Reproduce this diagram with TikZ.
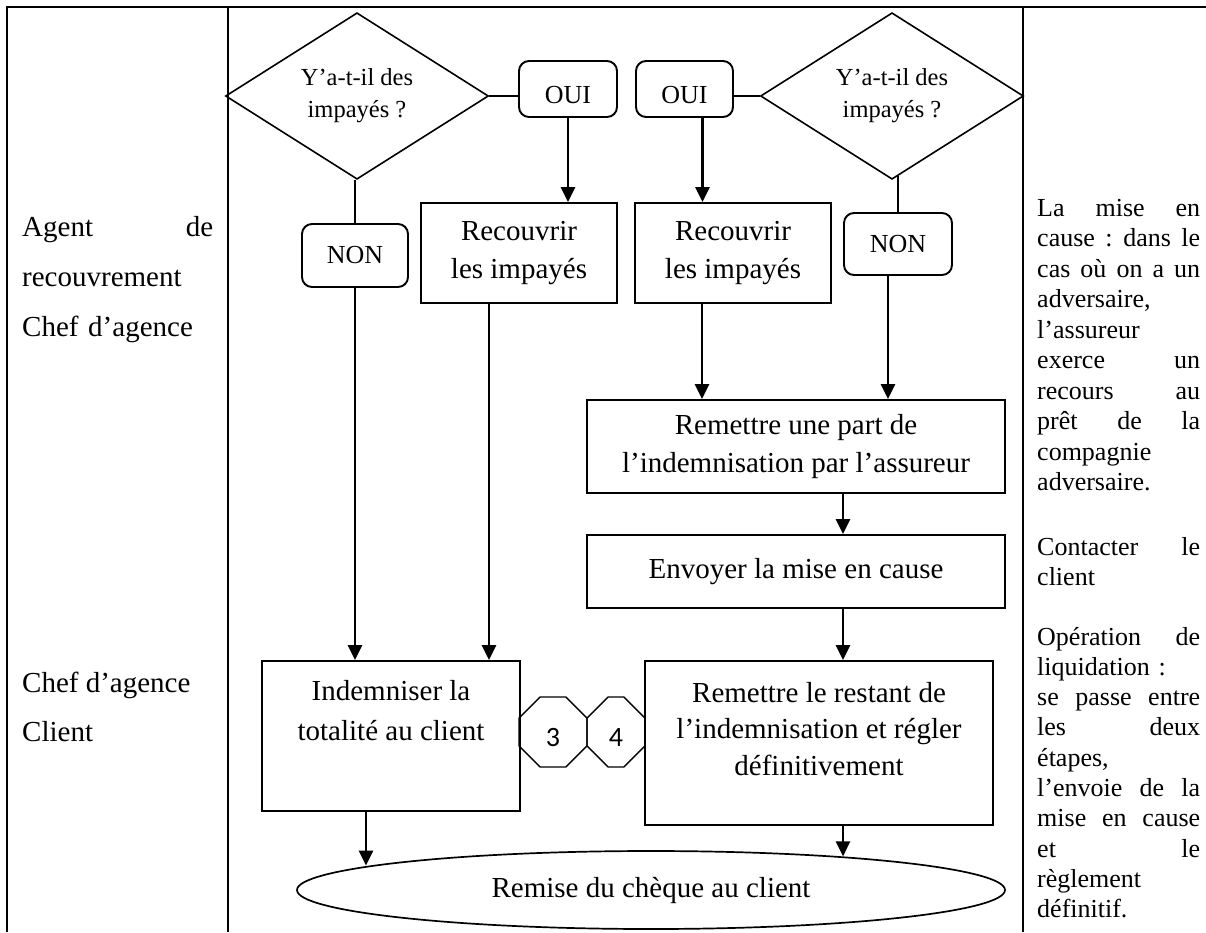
\documentclass[tikz,border=0pt]{standalone}
\usepackage{fontspec}
\setmainfont{Liberation Serif}
\newfontfamily\chiffres{Carlito}
\usetikzlibrary{shapes.geometric,shapes.misc,arrows.meta,calc}
\newcommand{\ligne}[1]{\makebox[163pt][s]{\frenchspacing\spaceskip=0.25em plus 1fil\relax #1}}

\begin{document}
\begin{tikzpicture}[x=1pt,y=-1pt,
	boite/.style={draw, rectangle, line width=1.9pt, inner sep=0pt, align=center, font=\fontsize{29}{38}\selectfont},
	losange/.style={draw, diamond, line width=1.6pt, inner sep=0pt, minimum width=263pt, minimum height=162pt, align=center, font=\fontsize{24.5}{32}\selectfont},
	choix/.style={draw, rectangle, rounded corners=10pt, line width=1.9pt, inner sep=0pt, font=\fontsize{26}{30}\selectfont},
	octo/.style={draw, chamfered rectangle, line width=1.4pt, inner sep=0pt, minimum height=70pt, text height=28pt, text depth=0pt, font=\chiffres\fontsize{28}{30}\selectfont},
	ovale/.style={draw, ellipse, line width=1.7pt, inner sep=0pt, minimum width=708pt, minimum height=78pt, font=\fontsize{29}{38}\selectfont},
	fleche/.style={-{Triangle[length=15pt,width=14pt]}, line width=2.6pt},
	trait/.style={line width=1.6pt},
	cadre/.style={line width=2.8pt},
	colonne/.style={align=left, inner sep=0pt}]
	\useasboundingbox (0,0) rectangle (1206,932);
	
	\draw[cadre] (7,932) -- (7,7) -- (1206,7);
	\draw[cadre] (228,7) -- (228,932);
	\draw[cadre] (1023,7) -- (1023,932);
	
	\node[colonne, text width=191pt, anchor=base west, font=\fontsize{29}{50}\selectfont] (agent) at (22,236) {Agent\hfill de\\recouvrement\\Chef d’agence};
	\node[colonne, anchor=base west, font=\fontsize{29}{49}\selectfont] (client) at (22,741) {Chef d’agence\\Client};
	
	\node[colonne, text width=163pt, anchor=base west, font=\fontsize{26}{30.55}\selectfont] (cause) at (1037,216) {\ligne{La mise en}\\\ligne{cause : dans le}\\\ligne{cas où on a un}\\adversaire,\\l’assureur\\\ligne{exerce un}\\\ligne{recours au}\\\ligne{prêt de la}\\compagnie\\adversaire.};
	\node[colonne, text width=163pt, anchor=base west, font=\fontsize{26}{30.55}\selectfont] (contact) at (1037,555) {\ligne{Contacter le}\\client};
	\node[colonne, text width=163pt, anchor=base west, font=\fontsize{26}{30.3}\selectfont] (liquid) at (1037,645) {\ligne{Opération de}\\liquidation :\\\ligne{se passe entre}\\\ligne{les deux}\\étapes,\\\ligne{l’envoie de la}\\\ligne{mise en cause}\\\ligne{et le}\\règlement\\définitif.};
	
	\node[losange] (d1) at (357,96) {Y’a-t-il des\\impayés ?};
	\node[losange] (d2) at (892,96) {Y’a-t-il des\\impayés ?};
	\node[choix, minimum width=98pt, minimum height=56pt, text height=29pt, text depth=0pt] (oui1) at (568,89) {OUI};
	\node[choix, minimum width=97pt, minimum height=56pt, text height=29pt, text depth=0pt] (oui2) at (684.5,89) {OUI};
	\node[choix, minimum width=106pt, minimum height=63pt] (non1) at (355,255.5) {NON};
	\node[choix, minimum width=108pt, minimum height=62pt] (non2) at (898,244) {NON};
	
	\node[boite, minimum width=196pt, minimum height=100pt] (rec1) at (519,253) {Recouvrir\\les impayés};
	\node[boite, minimum width=196pt, minimum height=100pt] (rec2) at (733,253) {Recouvrir\\les impayés};
	\node[boite, minimum width=418pt, minimum height=93pt] (part) at (796,446.5) {Remettre une part de\\l’indemnisation par l’assureur};
	\node[boite, minimum width=418pt, minimum height=73pt] (envoi) at (796,571.5) {Envoyer la mise en cause};
	\node[boite, minimum width=258pt, text height=79pt, text depth=71pt, font=\fontsize{29}{40}\selectfont] (ind) at (391,736) {Indemniser la\\totalité au client};
	\node[boite, minimum width=348pt, text height=114pt, text depth=50pt, font=\fontsize{29}{36.5}\selectfont] (reste) at (819,743) {Remettre le restant de\\l’indemnisation et régler\\définitivement};
	
	\node[octo, minimum width=68pt, chamfered rectangle xsep=19pt, chamfered rectangle ysep=20pt] (c3) at (553,732) {3};
	\node[octo, minimum width=58pt, chamfered rectangle xsep=17pt, chamfered rectangle ysep=18pt] (c4) at (616,732) {4};
	
	\node[ovale] (fin) at (651,890) {Remise du chèque au client};
	
	\draw[trait] (d1.east) -- (d1.east -| oui1.west);
	\draw[trait] (oui2.east |- d2.west) -- (d2.west);
	\draw[fleche] (oui1.south) -- (oui1.south |- rec1.north);
	\coordinate (o2) at ([xshift=18pt]oui2.south);
	\draw[fleche] (o2) -- (o2 |- rec2.north);
	\draw[trait] (non1.north) -- (non1.north |- d1.south);
	\draw[fleche] (non1.south) -- (non1.south |- ind.north);
	\coordinate (r1) at ([xshift=-30pt]rec1.south);
	\draw[fleche] (r1) -- (r1 |- ind.north);
	\coordinate (r2) at ([xshift=-31pt]rec2.south);
	\draw[fleche] (r2) -- (r2 |- part.north);
	\draw[trait] (non2.north) -- (non2.north |- d2.-85);
	\coordinate (n2) at ([xshift=-10pt]non2.south);
	\draw[fleche] (n2) -- (n2 |- part.north);
	\coordinate (p) at ([xshift=47pt]part.south);
	\draw[fleche] (p) -- (p |- envoi.north);
	\draw[fleche] (envoi.south -| p) -- (p |- reste.north);
	\draw[fleche] (reste.south -| p) -- (p |- fin.10);
	\coordinate (i) at ([xshift=-25pt]ind.south);
	\draw[fleche] (i) -- (i |- fin.175);
\end{tikzpicture}
\end{document}
